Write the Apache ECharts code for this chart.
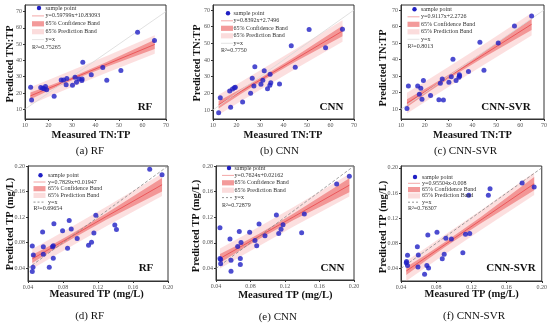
<!DOCTYPE html>
<html><head><meta charset="utf-8">
<script src="https://cdn.jsdelivr.net/npm/echarts@6/dist/echarts.min.js"></script>
<style>html,body{margin:0;padding:0;background:#fff}#c{width:550px;height:324px}</style>
</head><body><div id="c"></div>
<script>
// ---------- tick labels ----------
const tnTicks = [10, 20, 30, 40, 50, 60, 70];
const tpTicks = [0.04, 0.08, 0.12, 0.16, 0.20];

// ---------- (a) RF, TN:TP ----------
const aMeasured  = [12.4,12.8,16.7,17.5,18.2,18.7,19.2,22.4,25.4,26.4,27.5,27.8,30.2,31.3,31.9,33.0,34.2,34.3,34.6,38.2,43.1,44.8,50.8,57.9,65.1];
const aPredicted = [23.5,15.7,23.3,22.9,22.5,23.9,21.9,18.0,28.0,28.0,25.0,28.8,24.7,29.7,26.6,28.6,27.6,28.6,38.9,31.1,35.6,27.8,33.8,57.3,52.2];
const aBandX = [12.3, 22, 31, 45, 65.2];
const aFit   = [18.2, 24.0, 29.4, 37.7, 49.8];
const aCiLo  = [16.2, 22.7, 28.4, 36.2, 47.0];
const aCiHi  = [20.2, 25.3, 30.4, 39.2, 52.6];
const aPiLo  = [12.9, 18.9, 24.3, 32.5, 44.1];
const aPiHi  = [23.5, 29.1, 34.5, 42.9, 55.5];

// ---------- (b) CNN, TN:TP ----------
const bMeasured  = [12.4,13.1,17.1,17.5,18.3,19.1,19.5,22.6,26.0,26.7,27.4,27.8,30.4,31.2,31.8,33.2,34.3,34.2,34.6,38.3,43.3,45.0,50.9,57.9,65.1];
const bPredicted = [8.4,17.4,21.4,11.6,22.6,23.4,23.6,14.8,20.0,29.0,24.4,36.0,25.4,27.8,33.6,22.8,31.4,24.8,26.4,25.6,48.6,35.6,58.3,47.3,58.4];
const bBandX = [12.4, 22, 31, 45, 65.1];
const bFit   = [13.16, 21.21, 28.77, 40.51, 57.38];
const bCiLo  = [10.96, 19.71, 27.57, 38.91, 54.18];
const bCiHi  = [15.36, 22.71, 29.97, 42.11, 60.58];
const bPiLo  = [7.16, 15.41, 22.97, 34.61, 50.88];
const bPiHi  = [19.16, 27.01, 34.57, 46.41, 63.88];

// ---------- (c) CNN-SVR, TN:TP ----------
const cMeasured  = [12.5,13.1,17.0,17.7,18.3,18.8,19.4,22.4,25.9,26.5,27.3,27.8,30.1,31.1,31.8,33.1,34.3,34.5,34.6,38.3,43.1,44.8,50.8,57.6,64.8];
const cPredicted = [10.4,24.1,24.1,19.1,22.7,16.0,27.3,18.3,15.8,25.7,28.3,15.6,26.3,29.7,40.2,27.3,29.3,30.9,30.1,32.8,50.5,33.5,50.1,60.3,66.4];
const cBandX = [12.5, 22, 31, 45, 64.8];
const cFit   = [13.67, 22.33, 30.54, 43.3, 61.35];
const cCiLo  = [11.37, 20.83, 29.34, 41.6, 57.95];
const cCiHi  = [15.97, 23.83, 31.74, 45.0, 64.75];
const cPiLo  = [7.37, 16.23, 24.44, 37.1, 54.55];
const cPiHi  = [19.97, 28.43, 36.64, 49.5, 68.15];

// ---------- (d) RF, TP ----------
const dMeasured  = [0.0449,0.0449,0.0457,0.0461,0.0567,0.0575,0.0575,0.0643,0.0680,0.0689,0.0689,0.0696,0.0795,0.0852,0.0871,0.0894,0.0962,0.1092,0.1126,0.1153,0.1175,0.1392,0.1411,0.1791,0.1932];
const dPredicted = [0.0348,0.0748,0.0416,0.0608,0.0966,0.0738,0.0618,0.0416,0.0738,0.0753,0.0556,0.1095,0.0986,0.0712,0.1147,0.1012,0.0867,0.0758,0.0805,0.0950,0.1231,0.1075,0.1008,0.1948,0.1865];
const dBandX = [0.0449, 0.07, 0.09, 0.13, 0.1932];
const dFit   = [0.0546, 0.0743, 0.0899, 0.1213, 0.1707];
const dCiLo  = [0.0481, 0.0698, 0.0859, 0.1163, 0.1602];
const dCiHi  = [0.0611, 0.0788, 0.0939, 0.1263, 0.1812];
const dPiLo  = [0.0391, 0.0593, 0.0749, 0.1061, 0.1532];
const dPiHi  = [0.0701, 0.0893, 0.1049, 0.1365, 0.1882];

// ---------- (e) CNN, TP ----------
const eMeasured  = [0.0446,0.0446,0.0454,0.0454,0.0562,0.0574,0.0574,0.0651,0.0670,0.0682,0.0682,0.0690,0.0790,0.0852,0.0872,0.0899,0.0968,0.1100,0.1127,0.1154,0.1177,0.1393,0.1424,0.1799,0.1946];
const ePredicted = [0.1034,0.0556,0.0540,0.0473,0.0862,0.0530,0.0358,0.0743,0.0977,0.0556,0.0462,0.0805,0.0966,0.0836,0.0753,0.1096,0.0909,0.1236,0.0945,0.1013,0.1081,0.0956,0.1252,0.1720,0.1839];
const eBandX = [0.0446, 0.07, 0.09, 0.13, 0.1946];
const eFit   = [0.0556, 0.0750, 0.0902, 0.1207, 0.1700];
const eCiLo  = [0.0486, 0.0702, 0.0860, 0.1155, 0.1592];
const eCiHi  = [0.0626, 0.0798, 0.0944, 0.1259, 0.1808];
const ePiLo  = [0.0401, 0.0600, 0.0752, 0.1055, 0.1525];
const ePiHi  = [0.0711, 0.0900, 0.1052, 0.1359, 0.1875];

// ---------- (f) CNN-SVR, TP ----------
const fMeasured  = [0.0460,0.0463,0.0474,0.0474,0.0586,0.0593,0.0597,0.0668,0.0694,0.0705,0.0713,0.0809,0.0869,0.0891,0.0910,0.0973,0.1103,0.1133,0.1170,0.1181,0.1393,0.1412,0.1777,0.1914];
const fPredicted = [0.0491,0.0512,0.0608,0.0448,0.0747,0.0421,0.0613,0.0309,0.0448,0.0933,0.0405,0.0976,0.0555,0.0624,0.0880,0.0869,0.0651,0.0944,0.1563,0.0955,0.1563,0.1669,0.1760,0.1696];
const fBandX = [0.046, 0.07, 0.09, 0.13, 0.1914];
const fFit   = [0.0359, 0.0589, 0.0780, 0.1162, 0.1748];
const fCiLo  = [0.0294, 0.0544, 0.0740, 0.1112, 0.1643];
const fCiHi  = [0.0424, 0.0634, 0.0820, 0.1212, 0.1853];
const fPiLo  = [0.0199, 0.0434, 0.0625, 0.1005, 0.1568];
const fPiHi  = [0.0519, 0.0744, 0.0935, 0.1319, 0.1928];

// ---------- texts ----------
const equations = ['y=0.59799x+10.83093','y=0.8392x+2.7496','y=0.9117x+2.2726','y=0.7829x+0.01947','y=0.7624x+0.02162','y=0.95504x-0.008'];
const r2Texts   = ['R²=0.75265','R²=0.7750','R²=0.8013','R²=0.69654','R²=0.72879','R²=0.76307'];
const models    = ['RF','CNN','CNN-SVR','RF','CNN','CNN-SVR'];
const captions  = ['(a) RF','(b) CNN','(c) CNN-SVR','(d) RF','(e) CNN','(f) CNN-SVR'];
const xTitles   = ['Measured TN:TP','Measured TN:TP','Measured TN:TP','Measured TP (mg/L)','Measured TP (mg/L)','Measured TP (mg/L)'];
const yTitles   = ['Predicted TN:TP','Predicted TN:TP','Predicted TN:TP','Predicted TP (mg/L)','Predicted TP (mg/L)','Predicted TP (mg/L)'];
const legendNames = ['sample point','65% Confidence Band','65% Prediction Band','y=x'];

// ---------- layout (styles / positions) ----------
const SERIF = "'Liberation Serif','Times New Roman',serif";
const panels = [
  {grid:{left:25,top:5,width:141,height:114}, yMin:4, yMax:74, ticks:tnTicks, mx:aMeasured, my:aPredicted, bx:aBandX, fit:aFit, cl:aCiLo, ch:aCiHi, pl:aPiLo, ph:aPiHi,
   leg:{sx:32, tx:45.5, y0:8, dy:7.9}, model:[145,107], xt:[91,135], yt:[10,64], cap:[90,151], row:0},
  {grid:{left:213,top:5,width:141,height:114}, yMin:4.6, yMax:73, ticks:tnTicks, mx:bMeasured, my:bPredicted, bx:bBandX, fit:bFit, cl:bCiLo, ch:bCiHi, pl:bPiLo, ph:bPiHi,
   leg:{sx:221, tx:233.5, y0:13.3, dy:7.5}, model:[331.5,107], xt:[283,135], yt:[197,63], cap:[279.5,151], row:0},
  {grid:{left:401,top:5,width:143,height:114}, yMin:4.1, yMax:73, ticks:tnTicks, mx:cMeasured, my:cPredicted, bx:cBandX, fit:cFit, cl:cCiLo, ch:cCiHi, pl:cPiLo, ph:cPiHi,
   leg:{sx:407.5, tx:421, y0:9.3, dy:7.5}, model:[506,107], xt:[472.5,135], yt:[383,68], cap:[465.5,151], row:0},
  {grid:{left:28,top:166,width:140,height:115}, yMin:0.02, yMax:0.20, ticks:tpTicks, mx:dMeasured, my:dPredicted, bx:dBandX, fit:dFit, cl:dCiLo, ch:dCiHi, pl:dPiLo, ph:dPiHi,
   leg:{sx:33.5, tx:48, y0:175.3, dy:6.7}, model:[146,268.5], xt:[96.7,294.7], yt:[10,224], cap:[89.7,316], row:1},
  {grid:{left:216,top:166,width:138,height:114}, yMin:0.022, yMax:0.20, ticks:tpTicks, mx:eMeasured, my:ePredicted, bx:eBandX, fit:eFit, cl:eCiLo, ch:eCiHi, pl:ePiLo, ph:ePiHi,
   leg:{sx:222, tx:234.5, y0:168, dy:7.4}, model:[332.5,268], xt:[285.3,295], yt:[196,226], cap:[277.8,317], row:1},
  {grid:{left:401,top:166,width:143,height:115}, yMin:0.02, yMax:0.203, ticks:tpTicks, mx:fMeasured, my:fPredicted, bx:fBandX, fit:fFit, cl:fCiLo, ch:fCiHi, pl:fPiLo, ph:fPiHi,
   leg:{sx:408, tx:422, y0:177, dy:6.3}, model:[511,268], xt:[471.7,294.7], yt:[383,227], cap:[474,316], row:1}
];

const PI_FILL = 'rgba(248,185,185,0.45)';
const CI_FILL = 'rgba(238,105,105,0.62)';
const FIT_COLOR = '#e8464a';
const PT_COLOR = '#1f1fc4';

function bandSeries(i, xs, lo, hi, fill, z) {
  return {
    type:'custom', xAxisIndex:i, yAxisIndex:i, z:z, silent:true,
    data: xs.map((x,k)=>[x, lo[k], hi[k]]),
    encode:{x:0, y:1},
    renderItem: function(params, api) {
      if (params.dataIndex !== 0) return null;
      const pts = [];
      for (let k=0;k<xs.length;k++) pts.push(api.coord([xs[k], lo[k]]));
      for (let k=xs.length-1;k>=0;k--) pts.push(api.coord([xs[k], hi[k]]));
      return {type:'polygon', shape:{points:pts}, style:{fill:fill}};
    }
  };
}

const grids=[], xAxes=[], yAxes=[], series=[], graphics=[];
const tickFmt = (row) => (v) => row===0 ? String(v) : v.toFixed(2);

panels.forEach((p,i)=>{
  grids.push(Object.assign({show:true, borderColor:'#333', borderWidth:1, backgroundColor:'transparent'}, p.grid));
  const t = p.ticks;
  const axisCommon = {
    axisLine:{show:true, onZero:false, lineStyle:{color:'#333', width:1}},
    axisTick:{show:true, length:2, lineStyle:{color:'#333'}, customValues:t},
    splitLine:{show:false},
    axisLabel:{fontSize:6, color:'#555', fontFamily:SERIF, margin:3, customValues:t, formatter:tickFmt(p.row)}
  };
  xAxes.push(Object.assign({gridIndex:i, type:'value', min:t[0], max:t[t.length-1]}, JSON.parse(JSON.stringify(axisCommon)), {axisLabel:Object.assign({}, axisCommon.axisLabel)}));
  yAxes.push(Object.assign({gridIndex:i, type:'value', min:p.yMin, max:p.yMax}, JSON.parse(JSON.stringify(axisCommon)), {axisLabel:Object.assign({}, axisCommon.axisLabel)}));

  series.push(bandSeries(i, p.bx, p.pl, p.ph, PI_FILL, 1));
  series.push(bandSeries(i, p.bx, p.cl, p.ch, CI_FILL, 2));
  series.push({type:'line', xAxisIndex:i, yAxisIndex:i, z:3, symbol:'none', silent:true,
    data:p.bx.map((x,k)=>[x,p.fit[k]]), lineStyle:{color:FIT_COLOR, width:0.8}});
  const lo = t[0], hi = t[t.length-1];
  series.push({type:'line', xAxisIndex:i, yAxisIndex:i, z:3, symbol:'none', silent:true,
    data:[[lo,lo],[hi,hi]],
    lineStyle: p.row===0 ? {color:'#d9d9d9', width:0.8} : {color:'#888', width:0.8, type:[3,2]}});
  series.push({type:'scatter', xAxisIndex:i, yAxisIndex:i, z:5, symbolSize:5,
    data:p.mx.map((x,k)=>[x,p.my[k]]), itemStyle:{color:PT_COLOR}});

  // legend
  const L = p.leg, sw = 12;
  const ty = (r)=>L.y0 + r*L.dy;
  const txt = (x,y,s)=>({type:'text', x:x, y:y, z:10, style:{text:s, fontSize:6, fontFamily:SERIF, fill:'#333', align:'left', verticalAlign:'middle', textAlign:'left', textVerticalAlign:'middle'}});
  graphics.push({type:'circle', z:10, shape:{cx:L.sx+sw/2+1, cy:ty(0), r:2.2}, style:{fill:PT_COLOR}});
  graphics.push(txt(L.tx, ty(0), legendNames[0]));
  graphics.push({type:'line', z:10, shape:{x1:L.sx, y1:ty(1), x2:L.sx+sw, y2:ty(1)}, style:{stroke:'#f09090', lineWidth:0.8}});
  graphics.push(txt(L.tx, ty(1), equations[i]));
  graphics.push({type:'rect', z:10, shape:{x:L.sx, y:ty(2)-2.6, width:sw, height:5.2}, style:{fill:'#f39a9a'}});
  graphics.push(txt(L.tx, ty(2), legendNames[1]));
  graphics.push({type:'rect', z:10, shape:{x:L.sx, y:ty(3)-2.6, width:sw, height:5.2}, style:{fill:'#fbdcdc'}});
  graphics.push(txt(L.tx, ty(3), legendNames[2]));
  graphics.push({type:'line', z:10, shape:{x1:L.sx, y1:ty(4), x2:L.sx+sw, y2:ty(4)},
    style: p.row===0 ? {stroke:'#dddddd', lineWidth:0.8} : {stroke:'#777', lineWidth:0.8, lineDash:[2,2]}});
  graphics.push(txt(L.tx, ty(4), legendNames[3]));
  graphics.push(txt(L.sx, ty(5), r2Texts[i]));

  // model label
  graphics.push({type:'text', x:p.model[0], y:p.model[1], z:10, style:{text:models[i], fontSize:11, fontWeight:'bold', fontFamily:SERIF, fill:'#111', align:'center', verticalAlign:'middle', textAlign:'center', textVerticalAlign:'middle'}});
  // axis titles
  graphics.push({type:'text', x:p.xt[0], y:p.xt[1], z:10, style:{text:xTitles[i], fontSize:10.5, fontWeight:'bold', fontFamily:SERIF, fill:'#111', align:'center', verticalAlign:'middle', textAlign:'center', textVerticalAlign:'middle'}});
  graphics.push({type:'text', x:p.yt[0], y:p.yt[1], rotation:Math.PI/2, z:10, style:{text:yTitles[i], fontSize:10.5, fontWeight:'bold', fontFamily:SERIF, fill:'#111', align:'center', verticalAlign:'middle', textAlign:'center', textVerticalAlign:'middle'}});
  // caption
  graphics.push({type:'text', x:p.cap[0], y:p.cap[1], z:10, style:{text:captions[i], fontSize:11, fontFamily:SERIF, fill:'#111', align:'center', verticalAlign:'middle', textAlign:'center', textVerticalAlign:'middle'}});
});

const chart = echarts.init(document.getElementById('c'), null, {renderer:'canvas'});
chart.setOption({
  animation:false,
  backgroundColor:'#fff',
  grid:grids, xAxis:xAxes, yAxis:yAxes, series:series, graphic:graphics
});
</script></body></html>
